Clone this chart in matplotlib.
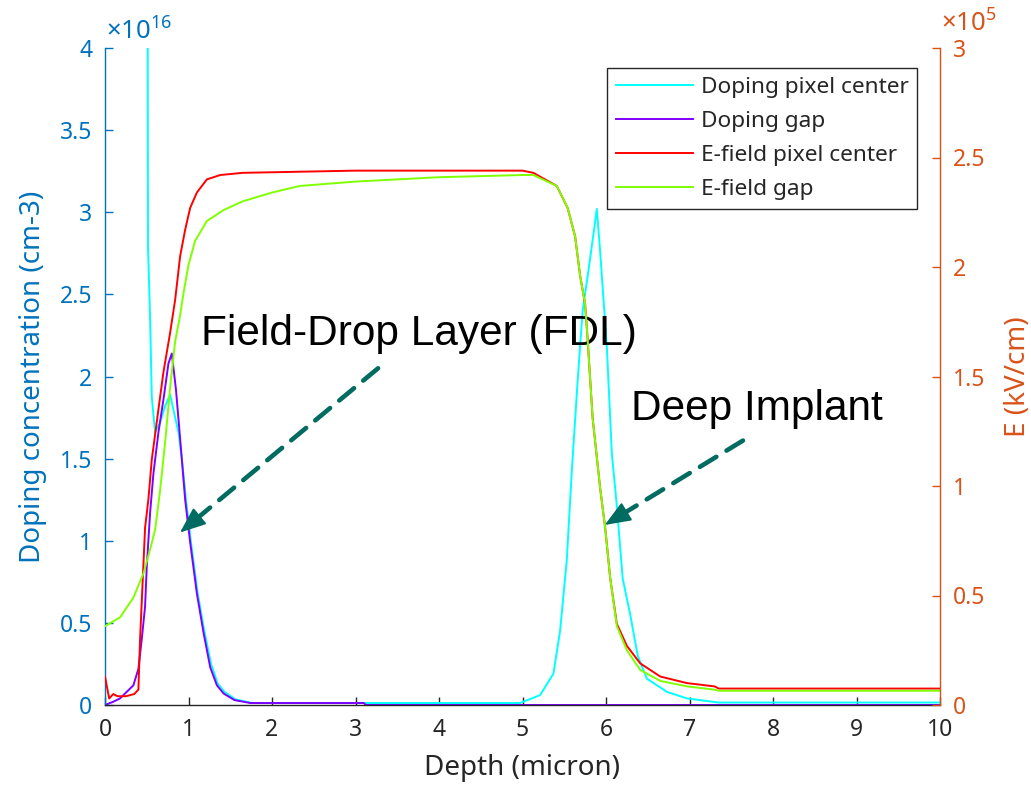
import matplotlib
matplotlib.use("Agg")
import matplotlib.pyplot as plt

plt.rcParams['font.family'] = ['Noto Sans', 'DejaVu Sans']
plt.rcParams['mathtext.fontset'] = 'custom'
plt.rcParams['mathtext.rm'] = 'Noto Sans'

# ---------------- data ----------------
# Doping pixel center (x1e16 cm-3)
depth_dop_center = [0.0, 0.50, 0.515, 0.54, 0.56, 0.60, 0.66, 0.72, 0.78, 0.84, 0.88, 0.92,
                    0.97, 1.03, 1.11, 1.19, 1.27, 1.35, 1.43, 1.56, 1.76, 3.1, 4.97, 5.21,
                    5.37, 5.45, 5.53, 5.59, 5.66, 5.72, 5.78, 5.84, 5.89, 5.93, 6.01, 6.07,
                    6.13, 6.20, 6.29, 6.38, 6.49, 6.73, 6.97, 7.35, 10.0]
dop_center = [8.0, 8.0, 2.79, 2.36, 1.875, 1.66, 1.72, 1.82, 1.89, 1.75, 1.66, 1.50,
              1.25, 0.99, 0.68, 0.45, 0.25, 0.13, 0.08, 0.035, 0.012, 0.012, 0.012, 0.06,
              0.19, 0.45, 0.88, 1.42, 1.97, 2.40, 2.61, 2.83, 3.02, 2.76, 2.18, 1.53,
              1.21, 0.77, 0.55, 0.30, 0.16, 0.08, 0.04, 0.015, 0.015]

# Doping gap (x1e16 cm-3)
depth_dop_gap = [0.0, 0.10, 0.18, 0.26, 0.34, 0.40, 0.44, 0.48, 0.50, 0.54, 0.58, 0.64,
                 0.70, 0.76, 0.80, 0.85, 0.90, 0.96, 1.02, 1.10, 1.18, 1.26, 1.34, 1.42,
                 1.55, 1.74, 3.1, 3.12, 10.0]
dop_gap = [0.0, 0.02, 0.04, 0.08, 0.12, 0.22, 0.40, 0.60, 0.84, 1.17, 1.41, 1.66,
           1.86, 2.08, 2.14, 1.92, 1.62, 1.25, 0.99, 0.68, 0.44, 0.23, 0.12, 0.07,
           0.03, 0.012, 0.012, 0.0, 0.0]

# E-field pixel center (x1e5 kV/cm)
depth_ef_center = [0.0, 0.05, 0.10, 0.15, 0.25, 0.35, 0.40, 0.42, 0.48, 0.52, 0.56, 0.64,
                   0.70, 0.78, 0.84, 0.90, 0.96, 1.02, 1.10, 1.22, 1.38, 1.65, 3.0, 5.0,
                   5.13, 5.41, 5.54, 5.63, 5.69, 5.75, 5.78, 5.84, 5.93, 5.99, 6.05, 6.13,
                   6.25, 6.41, 6.65, 6.97, 7.30, 7.35, 10.0]
ef_center = [0.13, 0.03, 0.05, 0.04, 0.04, 0.05, 0.07, 0.30, 0.81, 0.94, 1.12, 1.35,
             1.52, 1.70, 1.85, 2.05, 2.17, 2.27, 2.34, 2.40, 2.42, 2.43, 2.44, 2.44,
             2.43, 2.37, 2.27, 2.14, 1.96, 1.83, 1.67, 1.31, 0.99, 0.81, 0.58, 0.37,
             0.27, 0.19, 0.13, 0.10, 0.085, 0.075, 0.075]

# E-field gap (x1e5 kV/cm)
depth_ef_gap = [0.0, 0.18, 0.34, 0.46, 0.54, 0.60, 0.66, 0.72, 0.78, 0.84, 0.90, 0.94,
                1.00, 1.08, 1.22, 1.42, 1.65, 2.0, 2.33, 3.0, 4.0, 5.0, 5.13, 5.41,
                5.54, 5.63, 5.69, 5.75, 5.78, 5.84, 5.93, 5.99, 6.05, 6.13, 6.25, 6.41,
                6.65, 6.97, 7.30, 7.35, 10.0]
ef_gap = [0.36, 0.40, 0.49, 0.60, 0.71, 0.80, 0.98, 1.20, 1.45, 1.66, 1.78, 1.88,
          2.01, 2.12, 2.21, 2.26, 2.30, 2.34, 2.37, 2.39, 2.41, 2.42, 2.42, 2.37,
          2.27, 2.14, 1.96, 1.83, 1.67, 1.31, 0.99, 0.81, 0.58, 0.36, 0.25, 0.16,
          0.11, 0.085, 0.07, 0.065, 0.065]

series_labels = ['Doping pixel center', 'Doping gap', 'E-field pixel center', 'E-field gap']
x_ticks = [0, 1, 2, 3, 4, 5, 6, 7, 8, 9, 10]
left_ticks = [0, 0.5, 1, 1.5, 2, 2.5, 3, 3.5, 4]
right_ticks = [0, 0.5, 1, 1.5, 2, 2.5, 3]

# ---------------- style ----------------
BLUE = '#0072BD'
ORANGE = '#D95319'
DARK = '#262626'
C_CYAN = '#00FFFF'
C_PURPLE = '#7F00FF'
C_RED = '#FF0000'
C_GREEN = '#7FFF00'
ARROW = '#006B60'

fig = plt.figure(figsize=(10.31, 7.92), dpi=100)
ax = fig.add_axes([105/1031, 1-705/792, (940-105)/1031, (705-48)/792])
ax2 = ax.twinx()

lw = 1.4
l1, = ax.plot(depth_dop_center, dop_center, color=C_CYAN, lw=lw)
l2, = ax.plot(depth_dop_gap, dop_gap, color=C_PURPLE, lw=lw)
l3, = ax2.plot(depth_ef_center, ef_center, color=C_RED, lw=lw)
l4, = ax2.plot(depth_ef_gap, ef_gap, color=C_GREEN, lw=lw)

ax.set_xlim(0, 10)
ax.set_ylim(0, 4)
ax2.set_ylim(0, 3)
ax.set_xticks(x_ticks)
ax.set_xticklabels([str(t) for t in x_ticks])
ax.set_yticks(left_ticks)
ax.set_yticklabels([('%g' % t) for t in left_ticks])
ax2.set_yticks(right_ticks)
ax2.set_yticklabels([('%g' % t) for t in right_ticks])

for a in (ax, ax2):
    a.spines['top'].set_visible(False)
    a.patch.set_visible(False)
ax.spines['right'].set_visible(False)
ax2.spines['left'].set_visible(False)
ax2.spines['bottom'].set_visible(False)
ax.spines['left'].set_color(BLUE)
ax2.spines['right'].set_color(ORANGE)
ax.spines['bottom'].set_color(DARK)
for s in ('left', 'bottom'):
    ax.spines[s].set_linewidth(1.0)
ax2.spines['right'].set_linewidth(1.0)

ax.tick_params(axis='x', direction='in', length=6, width=1, colors=DARK, labelsize=16.5, pad=9)
ax.tick_params(axis='y', direction='in', length=6, width=1, colors=BLUE, labelsize=16.5, pad=9)
ax2.tick_params(axis='y', direction='in', length=6, width=1, colors=ORANGE, labelsize=16.5, pad=9)

ax.set_xlabel('Depth (micron)', fontsize=20, color=DARK, labelpad=9)
ax.set_ylabel('Doping concentration (cm-3)', fontsize=20, color=BLUE, labelpad=9)
ax2.set_ylabel('E (kV/cm)', fontsize=20, color=ORANGE, labelpad=14, rotation=90)

fig.text(106/1031, 1-40/792, r'$\mathregular{\times10^{16}}$', color=BLUE, fontsize=18.5,
         ha='left', va='baseline')
fig.text(941/1031, 1-32/792, r'$\mathregular{\times10^{5}}$', color=ORANGE, fontsize=18.5,
         ha='left', va='baseline')

leg = ax2.legend([l1, l2, l3, l4], series_labels, loc='upper right',
                 bbox_to_anchor=(917/1031, 1-68/792), bbox_transform=fig.transFigure,
                 fontsize=16.3, frameon=True, fancybox=False, framealpha=1,
                 edgecolor=DARK, handlelength=3.4, handletextpad=0.35,
                 labelspacing=0.58, borderpad=0.38, borderaxespad=0)
leg.get_frame().set_linewidth(1.0)
for t in leg.get_texts():
    t.set_color(DARK)

# annotations
def dashed_arrow(tail, head, frac=0.9):
    mx = tail[0] + (head[0] - tail[0]) * frac
    my = tail[1] + (head[1] - tail[1]) * frac
    ax.annotate('', xy=(mx, my), xytext=tail, xycoords='data', textcoords='data',
                arrowprops=dict(arrowstyle='-', color=ARROW, lw=3.3,
                                linestyle=(0, (4.2, 2.6)), shrinkA=0, shrinkB=0))
    ax.annotate('', xy=head, xytext=(mx, my), xycoords='data', textcoords='data',
                arrowprops=dict(arrowstyle='-|>,head_length=0.8,head_width=0.32',
                                color=ARROW, lw=1.5, mutation_scale=20,
                                shrinkA=0, shrinkB=0))

dashed_arrow((3.27, 2.05), (0.898, 1.05))
dashed_arrow((7.64, 1.61), (5.985, 1.096))

ax.text(1.15, 2.19, 'Field-Drop Layer (FDL)', fontsize=30.5, family='Liberation Sans',
        color='black', ha='left', va='baseline')
ax.text(6.30, 1.735, 'Deep Implant', fontsize=30.5, family='Liberation Sans',
        color='black', ha='left', va='baseline')

fig.savefig('out.png', dpi=100)
